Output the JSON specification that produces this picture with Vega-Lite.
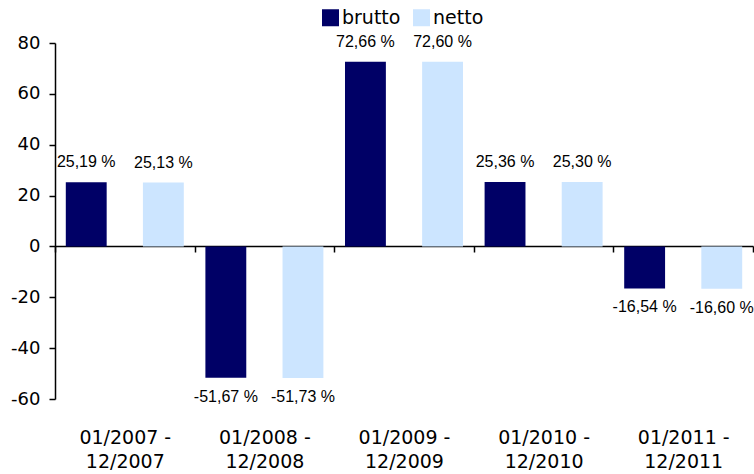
{
  "$schema": "https://vega.github.io/schema/vega-lite/v6.json",
  "width": 698,
  "height": 356,
  "autosize": {"type": "none"},
  "padding": {"left": 55, "top": 43, "right": 1, "bottom": 75},
  "background": "white",
  "config": {"view": {"stroke": null}},
  "data": {
    "values": [
      {"period": "01/2007 - 12/2007", "series": "brutto", "value": 25.19},
      {"period": "01/2007 - 12/2007", "series": "netto", "value": 25.13},
      {"period": "01/2008 - 12/2008", "series": "brutto", "value": -51.67},
      {"period": "01/2008 - 12/2008", "series": "netto", "value": -51.73},
      {"period": "01/2009 - 12/2009", "series": "brutto", "value": 72.66},
      {"period": "01/2009 - 12/2009", "series": "netto", "value": 72.60},
      {"period": "01/2010 - 12/2010", "series": "brutto", "value": 25.36},
      {"period": "01/2010 - 12/2010", "series": "netto", "value": 25.30},
      {"period": "01/2011 - 12/2011", "series": "brutto", "value": -16.54},
      {"period": "01/2011 - 12/2011", "series": "netto", "value": -16.60}
    ]
  },
  "transform": [
    {"calculate": "replace(replace(format(datum.value, '.2f'), '.', ','), '\u2212', '-') + ' %'", "as": "label"}
  ],
  "encoding": {
    "x": {
      "field": "period",
      "type": "nominal",
      "sort": null,
      "scale": {"paddingInner": 0, "paddingOuter": 0},
      "axis": {
        "title": null,
        "orient": "bottom",
        "offset": -153,
        "grid": false,
        "domainColor": "black",
        "domainWidth": 1.5,
        "tickColor": "black",
        "tickWidth": 1.5,
        "tickSize": 6,
        "tickBand": "extent",
        "labelAngle": 0,
        "labelPadding": 176,
        "labelFont": "DejaVu Sans",
        "labelFontSize": 19,
        "labelColor": "black",
        "labelLineHeight": 24,
        "labelBaseline": "top",
        "labelOverlap": false,
        "labelExpr": "isString(datum.label) && length(datum.label) > 5 ? [split(datum.label, ' - ')[0] + ' -', split(datum.label, ' - ')[1]] : ''"
      }
    },
    "xOffset": {
      "field": "series",
      "type": "nominal",
      "sort": ["brutto", "netto"],
      "scale": {"paddingInner": 0.47, "paddingOuter": 0.14}
    },
    "y": {
      "field": "value",
      "type": "quantitative",
      "scale": {"domain": [-60, 80], "nice": false, "zero": false},
      "axis": {
        "title": null,
        "values": [-60, -40, -20, 0, 20, 40, 60, 80],
        "grid": false,
        "domainColor": "black",
        "domainWidth": 1.5,
        "tickColor": "black",
        "tickWidth": 1.5,
        "tickSize": 6,
        "labelFont": "DejaVu Sans",
        "labelFontSize": 18,
        "labelColor": "black",
        "labelPadding": 9,
        "labelFlush": false,
        "labelExpr": "replace(datum.label, '\u2212', '-')"
      }
    }
  },
  "layer": [
    {
      "mark": {"type": "bar"},
      "encoding": {
        "color": {
          "field": "series",
          "type": "nominal",
          "scale": {"domain": ["brutto", "netto"], "range": ["#000066", "#CCE5FF"]},
          "legend": {
            "title": null,
            "orient": "none",
            "legendX": 266,
            "legendY": -35,
            "direction": "horizontal",
            "symbolType": "square",
            "symbolSize": 289,
            "symbolStrokeWidth": 0,
            "symbolOpacity": 1,
            "labelFont": "DejaVu Sans",
            "labelFontSize": 19,
            "labelColor": "black",
            "labelOffset": 2,
            "columnPadding": 11
          }
        }
      }
    },
    {
      "transform": [{"filter": "datum.value >= 0"}],
      "mark": {"type": "text", "baseline": "alphabetic", "dy": -15, "font": "Liberation Sans", "fontSize": 16, "color": "black"},
      "encoding": {"text": {"field": "label"}}
    },
    {
      "transform": [{"filter": "datum.value < 0"}],
      "mark": {"type": "text", "baseline": "alphabetic", "dy": 24, "font": "Liberation Sans", "fontSize": 16, "color": "black"},
      "encoding": {"text": {"field": "label"}}
    }
  ]
}
